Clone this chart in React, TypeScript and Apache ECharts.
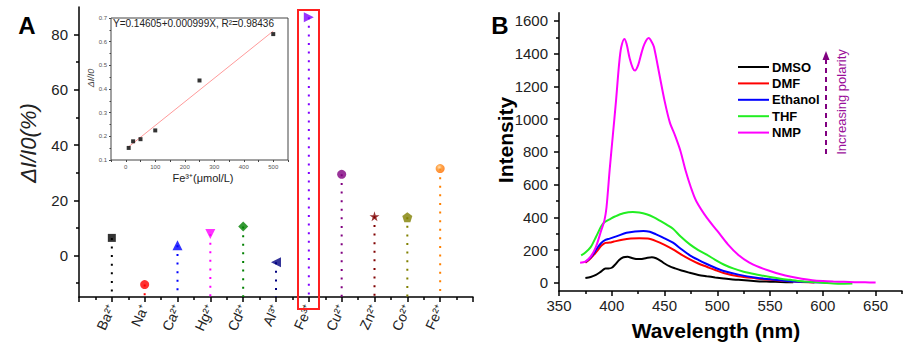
import React, { useEffect, useRef } from "react";
import * as echarts from "echarts";

// ---------- Panel A data ----------
const ions = ["Ba²⁺", "Na⁺", "Ca²⁺", "Hg²⁺", "Cd²⁺", "Al³⁺", "Fe³⁺", "Cu²⁺", "Zn²⁺", "Co²⁺", "Fe²⁺"];
const responses = [6.4, -10.5, 3.7, 7.8, 10.5, -2.4, 86.3, 29.4, 14.2, 13.9, 31.5];
const ionColors = ["#000000", "#ff0000", "#0000ff", "#ff00ff", "#008000", "#000080", "#8000ff", "#800080", "#800000", "#808000", "#ff8000"];
const STAR = "path://M50,0 L61,35 L98,35 L68,57 L79,91 L50,70 L21,91 L32,57 L2,35 L39,35 Z";
const PENTA = "path://M50,0 L98,35 L79,91 L21,91 L2,35 Z";
const ionSymbols = ["rect", "circle", "triangle", "triangle", "diamond", "triangle", "triangle", "circle", STAR, PENTA, "circle"];
const ionSymbolRotate = [0, 0, 0, 180, 0, 90, -90, 0, 0, 0, 0];
const ionSymbolSize = [8, 9, 10, 10, 10, 10, 10, 9, 10, 10, 9];
const yTicksA = [0, 20, 40, 60, 80];
const yMinorTicksA = [-10, 10, 30, 50, 70];

// ---------- Inset data ----------
const insetConc = [10, 25, 50, 100, 250, 500];
const insetRatio = [0.151, 0.179, 0.188, 0.225, 0.436, 0.632];
const fitX = [10, 500];
const fitY = [0.156, 0.645];

// ---------- Panel B data ----------
const wlDMSO = [375, 380, 385, 390, 394, 397, 400, 403, 407, 411, 415, 419, 423, 427, 433, 438, 442, 446, 450, 455, 460, 466, 474, 482, 490, 498, 506, 520, 537, 550, 560, 572];
const intDMSO = [30, 36, 48, 70, 88, 88, 92, 110, 140, 156, 159, 152, 146, 145, 152, 156, 150, 136, 118, 100, 88, 75, 61, 48, 40, 33, 27, 18, 10, 7, 5, 3];
const wlDMF = [375, 380, 386, 390, 394, 398, 402, 410, 418, 426, 434, 442, 450, 458, 466, 474, 482, 490, 498, 506, 520, 537, 550, 560, 575, 592];
const intDMF = [123, 150, 194, 226, 244, 246, 252, 263, 270, 272, 270, 255, 232, 204, 172, 143, 118, 98, 78, 60, 40, 27, 18, 12, 6, 2];
const wlEthanol = [375, 380, 386, 390, 394, 398, 405, 414, 422, 430, 436, 442, 450, 458, 466, 474, 482, 490, 498, 506, 520, 537, 550, 569, 582, 602];
const intEthanol = [127, 155, 210, 243, 262, 270, 285, 306, 314, 317, 312, 296, 272, 245, 205, 168, 140, 115, 92, 72, 50, 31, 22, 10, 6, 2];
const wlTHF = [371, 375, 380, 385, 390, 393, 398, 403, 411, 420, 426, 433, 440, 446, 452, 458, 465, 474, 482, 490, 498, 506, 515, 525, 537, 550, 560, 569, 580, 590, 600, 610, 620, 628];
const intTHF = [168, 185, 218, 280, 345, 370, 388, 405, 425, 433, 430, 419, 400, 378, 355, 330, 285, 235, 200, 172, 140, 112, 88, 68, 51, 35, 25, 18, 10, 5, 1, -4, -5, -4];
const wlNMP = [370, 375, 380, 385, 390, 393, 395, 398, 401, 404, 407, 409, 412, 414, 417, 420, 422, 425, 428, 431, 435, 438, 440, 445, 450, 455, 460, 465, 470, 475, 480, 490, 500, 510, 520, 530, 540, 550, 560, 570, 580, 590, 600, 610, 620, 630, 640, 650];
const intNMP = [123, 130, 160, 220, 320, 380, 460, 690, 900, 1110, 1340, 1440, 1490, 1460, 1370, 1310, 1297, 1330, 1400, 1460, 1495, 1470, 1440, 1277, 1113, 980, 899, 807, 684, 582, 500, 398, 317, 235, 170, 125, 95, 72, 52, 37, 25, 16, 11, 8, 6, 4, 3, 2];
const solventNames = ["DMSO", "DMF", "Ethanol", "THF", "NMP"];
const solventColors = ["#000000", "#ff0000", "#0000ff", "#22ee22", "#ff00ff"];
const solventWl = [wlDMSO, wlDMF, wlEthanol, wlTHF, wlNMP];
const solventInt = [intDMSO, intDMF, intEthanol, intTHF, intNMP];
const xTicksB = [350, 400, 450, 500, 550, 600, 650];
const xMinorTicksB = [375, 425, 475, 525, 575, 625, 675];
const yTicksB = [0, 200, 400, 600, 800, 1000, 1200, 1400, 1600];
const yMinorTicksB = [100, 300, 500, 700, 900, 1100, 1300, 1500];

const FONT = "'Liberation Sans', Arial, sans-serif";

export default function App() {
  const ref = useRef<HTMLDivElement>(null);
  useEffect(() => {
    if (!ref.current) return;
    const chart = echarts.init(ref.current, undefined, { renderer: "svg" });
    const axisLine = { show: true, onZero: false, lineStyle: { color: "#000", width: 1.5 } };
    const noLine = { show: false, onZero: false };
    const tickLabel = { color: "#222", fontSize: 15, fontFamily: FONT };
    const plain = (v: number) => String(v);

    const dropLines = ions.map((name, i) => ({
      type: "line",
      name: "drop-" + i,
      xAxisIndex: 0,
      yAxisIndex: 0,
      symbol: "none",
      silent: true,
      lineStyle: { color: ionColors[i], width: 2, type: [2, 6.6] },
      data: [
        [i + 1, responses[i]],
        [i + 1, -15],
      ],
      z: 2,
    }));

    const option: any = {
      animation: false,
      backgroundColor: "#fff",
      textStyle: { fontFamily: FONT },
      grid: [
        { left: 79, top: 7, width: 394, height: 290, outerBoundsMode: "none" },
        { left: 111, top: 18, width: 177, height: 142, show: true, borderColor: "#444", borderWidth: 1, backgroundColor: "transparent", outerBoundsMode: "none", z: 5 },
        { left: 559, top: 12.7, width: 343, height: 278.3, outerBoundsMode: "none" },
      ],
      xAxis: [
        {
          gridIndex: 0, type: "value", position: "bottom", min: 0, max: 12, interval: 1,
          axisLine, splitLine: { show: false },
          axisTick: { show: true, length: 5, lineStyle: { color: "#000", width: 1.5 } },
          minorTick: { show: true, splitNumber: 2, length: 3, lineStyle: { color: "#000", width: 1.5 } },
          axisLabel: { ...tickLabel, fontSize: 14, rotate: 65, margin: 8, formatter: (v: number) => ions[v - 1] ?? "" },
        },
        {
          gridIndex: 1, type: "value", position: "bottom", min: -50, max: 550, interval: 50,
          axisLine: noLine, splitLine: { show: false },
          axisTick: { show: true, length: 2, lineStyle: { color: "#444" } },
          axisLabel: { color: "#555", fontSize: 6, margin: 4, formatter: (v: number) => (v >= 0 && v % 100 === 0 ? String(v) : "") },
        },
        {
          gridIndex: 2, type: "value", position: "bottom", min: 350, max: 675,
          axisLine, splitLine: { show: false },
          axisTick: { show: true, length: 5, customValues: xTicksB, lineStyle: { color: "#000", width: 1.5 } },
          axisLabel: { ...tickLabel, margin: 7, customValues: xTicksB, formatter: plain },
        },
        {
          gridIndex: 2, type: "value", position: "bottom", offset: 0, min: 350, max: 675,
          axisLine: noLine, splitLine: { show: false },
          axisTick: { show: true, length: 3, customValues: xMinorTicksB, lineStyle: { color: "#000", width: 1.5 } },
          axisLabel: { show: false },
        },
      ],
      yAxis: [
        {
          gridIndex: 0, type: "value", min: -15, max: 90, position: "left",
          axisLine, splitLine: { show: false },
          axisTick: { show: true, length: 5, customValues: yTicksA, lineStyle: { color: "#000", width: 1.5 } },
          axisLabel: { ...tickLabel, margin: 11, customValues: yTicksA, formatter: plain },
        },
        {
          gridIndex: 0, type: "value", min: -15, max: 90, position: "left", offset: 0,
          axisLine: noLine, splitLine: { show: false },
          axisTick: { show: true, length: 3, customValues: yMinorTicksA, lineStyle: { color: "#000", width: 1.5 } },
          axisLabel: { show: false },
        },
        {
          gridIndex: 1, type: "value", position: "left", min: 0.1, max: 0.7, interval: 0.1,
          axisLine: noLine, splitLine: { show: false },
          axisTick: { show: true, length: 2, lineStyle: { color: "#444" } },
          minorTick: { show: true, splitNumber: 2, length: 1.5, lineStyle: { color: "#444" } },
          axisLabel: { color: "#555", fontSize: 6, margin: 4, formatter: (v: number) => v.toFixed(1) },
        },
        {
          gridIndex: 2, type: "value", min: -50, max: 1650, position: "left",
          axisLine, splitLine: { show: false },
          axisTick: { show: true, length: 5, customValues: yTicksB, lineStyle: { color: "#000", width: 1.5 } },
          axisLabel: { ...tickLabel, margin: 11, customValues: yTicksB, formatter: plain },
        },
        {
          gridIndex: 2, type: "value", min: -50, max: 1650, position: "left", offset: 0,
          axisLine: noLine, splitLine: { show: false },
          axisTick: { show: true, length: 3, customValues: yMinorTicksB, lineStyle: { color: "#000", width: 1.5 } },
          axisLabel: { show: false },
        },
      ],
      legend: {
        data: solventNames,
        orient: "vertical",
        left: 733,
        top: 55.5,
        itemWidth: 31,
        itemHeight: 2,
        itemGap: 3.4,
        icon: "rect",
        textStyle: { fontSize: 13, fontWeight: "bold", color: "#000", fontFamily: FONT, padding: [0, 0, 0, -2] },
      },
      series: [
        ...dropLines,
        {
          type: "scatter",
          name: "ions",
          xAxisIndex: 0,
          yAxisIndex: 0,
          z: 3,
          data: ions.map((n, i) => ({
            value: [i + 1, responses[i]],
            symbol: ionSymbols[i],
            symbolRotate: ionSymbolRotate[i],
            symbolSize: ionSymbolSize[i],
            itemStyle: {
              color:
                i === 10
                  ? new echarts.graphic.RadialGradient(0.4, 0.35, 0.6, [
                      { offset: 0, color: "#ffd9a0" },
                      { offset: 0.45, color: "#ff9020" },
                      { offset: 1, color: "#ff7000" },
                    ])
                  : ionColors[i],
            },
          })),
        },
        {
          type: "line",
          name: "fit",
          xAxisIndex: 1,
          yAxisIndex: 2,
          symbol: "none",
          lineStyle: { color: "#ff9a9a", width: 1 },
          data: fitX.map((x, i) => [x, fitY[i]]),
          z: 6,
        },
        {
          type: "scatter",
          name: "inset",
          xAxisIndex: 1,
          yAxisIndex: 2,
          symbol: "rect",
          symbolSize: 4,
          itemStyle: { color: "#000" },
          data: insetConc.map((x, i) => [x, insetRatio[i]]),
          z: 7,
        },
        ...solventNames.map((name, k) => ({
          type: "line",
          name,
          xAxisIndex: 2,
          yAxisIndex: 3,
          symbol: "none",
          smooth: 0.3,
          lineStyle: { color: solventColors[k], width: 2 },
          itemStyle: { color: solventColors[k] },
          data: solventWl[k].map((w, i) => [w, solventInt[k][i]]),
          z: 3 + k,
        })),
      ],
      graphic: [
        { type: "text", x: 27, y: 25, style: { text: "A", font: `bold 24px ${FONT}`, fill: "#000", align: "center", verticalAlign: "middle" } },
        { type: "text", x: 28, y: 143, rotation: Math.PI / 2, style: { text: "ΔI/I0(%)", font: `italic 22px ${FONT}`, fill: "#222", align: "center", verticalAlign: "middle" } },
        { type: "rect", shape: { x: 298, y: 10, width: 21, height: 299 }, style: { fill: "none", stroke: "#ff2020", lineWidth: 2 }, z: 10 },
        { type: "text", x: 113, y: 23, z: 10, style: { text: "Y=0.14605+0.000999X, R²=0.98436", font: `10px ${FONT}`, fill: "#222", align: "left", verticalAlign: "middle" } },
        { type: "text", x: 91, y: 78, rotation: Math.PI / 2, z: 10, style: { text: "ΔI/I0", font: `italic 9px ${FONT}`, fill: "#444", align: "center", verticalAlign: "middle" } },
        { type: "text", x: 203, y: 178, z: 10, style: { text: "Fe³⁺(μmol/L)", font: `11px ${FONT}`, fill: "#222", align: "center", verticalAlign: "middle" } },
        { type: "text", x: 500, y: 25, style: { text: "B", font: `bold 24px ${FONT}`, fill: "#000", align: "center", verticalAlign: "middle" } },
        { type: "text", x: 505, y: 140, rotation: Math.PI / 2, style: { text: "Intensity", font: `bold 21px ${FONT}`, fill: "#000", align: "center", verticalAlign: "middle" } },
        { type: "text", x: 716, y: 330, style: { text: "Wavelength (nm)", font: `bold 21px ${FONT}`, fill: "#000", align: "center", verticalAlign: "middle" } },
        { type: "line", shape: { x1: 826, y1: 154, x2: 826, y2: 60 }, style: { stroke: "#800080", lineWidth: 2, lineDash: [5, 4] } },
        { type: "polygon", shape: { points: [[826, 51], [822.5, 60], [829.5, 60]] }, style: { fill: "#800080" } },
        { type: "text", x: 841, y: 102, rotation: Math.PI / 2, style: { text: "Increasing polarity", font: `13px ${FONT}`, fill: "#9a109a", align: "center", verticalAlign: "middle" } },
      ],
    };
    chart.setOption(option);
    return () => chart.dispose();
  }, []);
  return <div ref={ref} style={{ position: "absolute", left: 0, top: 0, width: 918, height: 346 }} />;
}
